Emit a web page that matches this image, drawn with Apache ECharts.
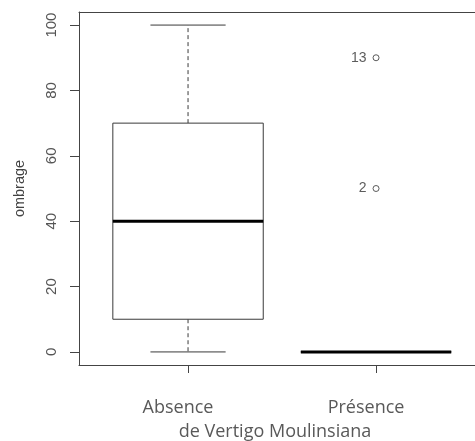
<!DOCTYPE html>
<html><head><meta charset="utf-8">
<script src="https://cdn.jsdelivr.net/npm/echarts@6/dist/echarts.min.js"></script>
<style>html,body{margin:0;padding:0;background:#fff}#c{width:475px;height:441px}</style>
</head><body><div id="c"></div>
<script>
const categories = ['Absence', 'Présence'];
// [position, min, q1, median, q3, max]
const boxStats = [
  [1, 0, 10, 40, 70, 100],
  [2, 0, 0, 0, 0, 0]
];
const outliers = [[2, 90], [2, 50]];
const outlierLabels = ['13', '2'];
const yTicks = [0, 20, 40, 60, 80, 100];
const xTicks = [1, 2];

const lineColor = '#3a3a3a';
const frameColor = '#444';
const chart = echarts.init(document.getElementById('c'), null, {renderer: 'canvas'});
chart.setOption({
  animation: false,
  grid: {left: 79, top: 12, right: 0, bottom: 76, show: false, containLabel: false, outerBoundsMode: 'none'},
  xAxis: [{
    type: 'value', min: 0.42, max: 2.5264,
    axisLine: {show: true, onZero: false, lineStyle: {color: frameColor, width: 1}}, splitLine: {show: false},
    axisTick: {show: true, customValues: xTicks, length: 8, lineStyle: {color: frameColor}},
    axisLabel: {customValues: xTicks, margin: 34, formatter: v => categories[Math.round(v) - 1],
      color: '#595959', fontFamily: 'Open Sans', fontSize: 18, padding: [0, 20, 0, 0]},
    name: 'de Vertigo Moulinsiana', nameLocation: 'middle', nameGap: 58,
    nameTextStyle: {color: '#595959', fontFamily: 'Open Sans', fontSize: 18, padding: [0, 4, 0, 0]}
  }, {
    type: 'value', position: 'top', min: 0.42, max: 2.5264,
    axisLine: {show: true, onZero: false, lineStyle: {color: frameColor, width: 1}},
    axisTick: {show: false}, axisLabel: {show: false}, splitLine: {show: false}
  }],
  yAxis: {
    type: 'value', min: -4, max: 104,
    axisLine: {show: true, onZero: false, lineStyle: {color: frameColor, width: 1}}, splitLine: {show: false},
    axisTick: {show: true, customValues: yTicks, length: 9, lineStyle: {color: frameColor}},
    axisLabel: {customValues: yTicks, rotate: 90, margin: 20, color: '#555', fontFamily: 'Liberation Sans', fontSize: 15},
    name: 'ombrage', nameLocation: 'middle', nameGap: 52,
    nameTextStyle: {color: '#444', fontFamily: 'Liberation Sans', fontSize: 14.5}
  },
  series: [
    {
      type: 'custom',
      data: boxStats,
      renderItem: function (params, api) {
        const x = api.value(0);
        const mn = api.value(1), q1 = api.value(2), md = api.value(3), q3 = api.value(4), mx = api.value(5);
        const pL = api.coord([x - 0.4, q3]), pR = api.coord([x + 0.4, q1]);
        const cL = api.coord([x - 0.2, mx]), cR = api.coord([x + 0.2, mn]);
        const c = api.coord([x, 0])[0];
        const yMin = api.coord([x, mn])[1], yMax = api.coord([x, mx])[1];
        const yQ1 = api.coord([x, q1])[1], yQ3 = api.coord([x, q3])[1], yMd = api.coord([x, md])[1];
        const st = {stroke: lineColor, lineWidth: 1, fill: null};
        const dash = {stroke: lineColor, lineWidth: 1, lineDash: [4, 3]};
        return {type: 'group', children: [
          {type: 'line', shape: {x1: c, y1: yQ3, x2: c, y2: yMax}, style: dash},
          {type: 'line', shape: {x1: c, y1: yQ1, x2: c, y2: yMin}, style: dash},
          {type: 'line', shape: {x1: cL[0], y1: yMax, x2: cR[0], y2: yMax}, style: st},
          {type: 'line', shape: {x1: cL[0], y1: yMin, x2: cR[0], y2: yMin}, style: st},
          {type: 'rect', shape: {x: pL[0], y: yQ3, width: pR[0] - pL[0], height: yQ1 - yQ3}, style: {stroke: lineColor, lineWidth: 1, fill: '#fff'}},
          {type: 'line', shape: {x1: pL[0], y1: yMd, x2: pR[0], y2: yMd}, style: {stroke: '#000', lineWidth: 3}}
        ]};
      }
    },
    {
      type: 'scatter',
      data: outliers,
      symbol: 'circle', symbolSize: 6,
      itemStyle: {color: '#fff', borderColor: '#333', borderWidth: 1},
      label: {show: true, position: 'left', distance: 6, formatter: p => outlierLabels[p.dataIndex],
        color: '#333', fontFamily: 'Liberation Sans', fontSize: 14}
    }
  ]
});
</script></body></html>
